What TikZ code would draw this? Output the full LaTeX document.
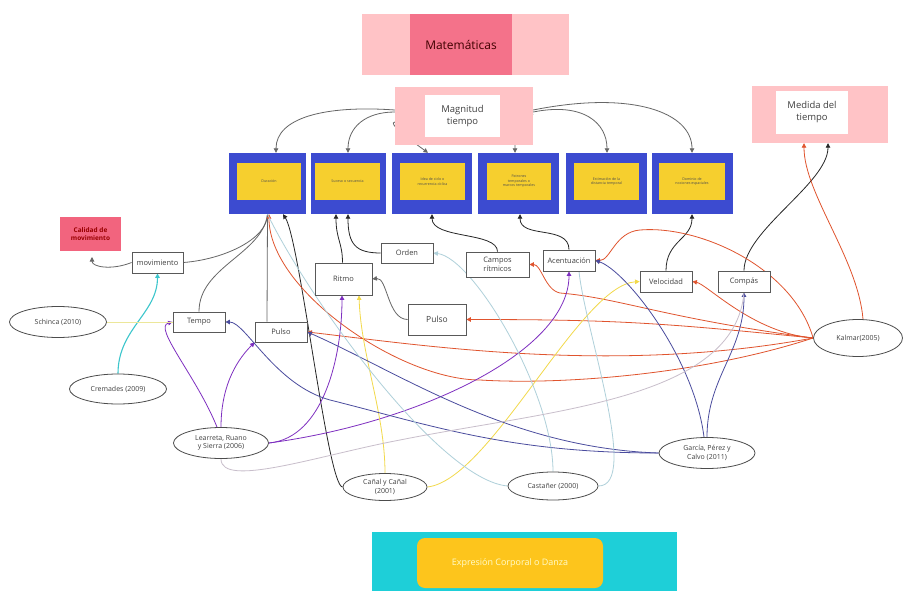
\documentclass[tikz,border=0pt]{standalone}
\usepackage{fontspec}
\setmainfont{Open Sans}
\usetikzlibrary{arrows.meta,shapes.geometric}
\definecolor{pinkL}{HTML}{FFC3C6}
\definecolor{pinkD}{HTML}{F4728A}
\definecolor{royal}{HTML}{3C4BD0}
\definecolor{yel}{HTML}{F6CF2E}
\definecolor{redc}{HTML}{E0542E}
\definecolor{purp}{HTML}{7E2FC0}
\definecolor{slate}{HTML}{4A4C9E}
\definecolor{cyanc}{HTML}{3CC6CC}
\definecolor{lblue}{HTML}{AFD0DA}
\definecolor{lgray}{HTML}{C8BECB}
\definecolor{yelL}{HTML}{ECE79A}
\definecolor{yelc}{HTML}{F2D94A}
\definecolor{gcol}{HTML}{666666}
\definecolor{turq}{HTML}{1ECFD8}
\definecolor{gold}{HTML}{FDC51C}
\definecolor{calred}{HTML}{F2647E}
\pgfdeclarelayer{bg}
\pgfsetlayers{bg,main}
\tikzset{
 tip/.style={-{Triangle[length=4.5bp,width=4.5bp]}},
 con/.style={line width=0.8bp},
 box/.style={draw=black!65, line width=0.8bp, fill=white, inner sep=0, font=\fontsize{7.5}{9}\selectfont, text=black!75, align=center},
 ell/.style={ellipse, draw=black!70, line width=0.8bp, fill=white, inner sep=0, font=\fontsize{7}{8.5}\selectfont, text=black!75, align=center},
 bluebox/.style={fill=royal, inner sep=0, minimum height=61bp},
 yelbox/.style={fill=yel, inner sep=0, minimum height=37bp, font=\fontsize{3.6}{4.4}\selectfont, align=center, text=black!70},
}
\begin{document}
\begin{tikzpicture}[x=1bp,y=-1bp]
\useasboundingbox (0,0) rectangle (904,591);
% top headers
\node[fill=pinkL, minimum width=207bp, minimum height=61bp, inner sep=0] (matOuter) at (465.5,44.5) {};
\node[fill=pinkD, minimum width=102bp, minimum height=61bp, inner sep=0, font=\fontsize{12}{14}\selectfont, text=black!75!red] (matInner) at (461,44.5) {Matemáticas};
\node[fill=pinkL, minimum width=138bp, minimum height=58bp, inner sep=0] (magOuter) at (464,116) {};
\node[fill=white, minimum width=75bp, minimum height=42bp, inner sep=0, align=center, font=\fontsize{9.5}{12}\selectfont, text=black!75] (magInner) at (462.5,116) {Magnitud\\tiempo};
\node[fill=pinkL, minimum width=136bp, minimum height=57bp, inner sep=0] (medOuter) at (820,114.5) {};
\node[fill=white, minimum width=72bp, minimum height=43bp, inner sep=0, align=center, font=\fontsize{9.5}{12}\selectfont, text=black!75] (medInner) at (812,112.5) {Medida del\\tiempo};
% blue boxes
\node[bluebox, minimum width=77bp] (dur) at (267.5,183.5) {};
\node[yelbox, minimum width=64bp] at (269,181.5) {Duración};
\node[bluebox, minimum width=75bp] (suc) at (348.5,183.5) {};
\node[yelbox, minimum width=65bp] at (347.5,181.5) {Suceso o secuencia};
\node[bluebox, minimum width=80bp] (idea) at (432,183.5) {};
\node[yelbox, minimum width=65bp] at (432.5,181.5) {Idea de ciclo o\\recurrencia cíclica};
\node[bluebox, minimum width=81bp] (pat) at (518.5,183.5) {};
\node[yelbox, minimum width=64bp] at (519,181.5) {Patrones\\temporales o\\marcos temporales};
\node[bluebox, minimum width=81bp] (est) at (606.5,183.5) {};
\node[yelbox, minimum width=65bp] at (606.5,181.5) {Estimación de la\\distancia temporal};
\node[bluebox, minimum width=81bp] (dom) at (692.5,183.5) {};
\node[yelbox, minimum width=66bp] at (692,181.5) {Dominio de\\nociones espaciales};
% left
\node[fill=calred, minimum width=61bp, minimum height=34bp, inner sep=0, align=center, font=\fontsize{6.5}{8}\selectfont\bfseries, text=black!40!red] (cal) at (90.5,234) {Calidad de\\movimiento};
\coordinate (calArrow) at (92,257);
\node[box, minimum width=51bp, minimum height=21bp] (mov) at (157.5,262.5) {movimiento};
\node[box, minimum width=52bp, minimum height=20bp] (tempo) at (199,322) {Tempo};
\node[box, minimum width=52bp, minimum height=20bp] (pulsoS) at (281,332) {Pulso};
\node[box, minimum width=57bp, minimum height=32bp] (ritmo) at (343.5,279) {Ritmo};
\node[box, minimum width=52bp, minimum height=20bp] (orden) at (407,253) {Orden};
\node[box, minimum width=63bp, minimum height=25bp] (campos) at (497.5,264.5) {Campos\\rítmicos};
\node[box, minimum width=52bp, minimum height=21bp] (acent) at (569,260.5) {Acentuación};
\node[box, minimum width=58bp, minimum height=31bp, font=\fontsize{8.5}{10}\selectfont] (pulsoB) at (437,319.5) {Pulso};
\node[box, minimum width=52bp, minimum height=21bp] (veloc) at (666,281.5) {Velocidad};
\node[box, minimum width=52bp, minimum height=21bp] (compas) at (744,281.5) {Compás};
% ellipses
\node[ell, minimum width=97bp, minimum height=31bp] (schinca) at (58,322) {Schinca (2010)};
\node[ell, minimum width=97bp, minimum height=30bp] (crem) at (118,389) {Cremades (2009)};
\node[ell, minimum width=95bp, minimum height=31bp] (lear) at (221,443) {Learreta, Ruano\\y Sierra (2006)};
\node[ell, minimum width=84bp, minimum height=27bp] (canal) at (385,487) {Cañal y Cañal\\(2001)};
\node[ell, minimum width=90bp, minimum height=28bp] (cast) at (553,486) {Castañer (2000)};
\node[ell, minimum width=96bp, minimum height=31bp] (garcia) at (707,453) {García, Pérez y\\Calvo (2011)};
\node[ell, minimum width=89bp, minimum height=37bp] (kalmar) at (858,338) {Kalmar(2005)};
% bottom
\node[fill=turq, minimum width=305bp, minimum height=59bp, inner sep=0] (expOuter) at (524.5,561.5) {};
\node[fill=gold, rounded corners=8bp, minimum width=186bp, minimum height=50bp, inner sep=0, font=\fontsize{9}{11}\selectfont, text=yellow!20] (exp) at (510,563) {Expresión Corporal o Danza};

\begin{pgfonlayer}{bg}
\fill[white] (0,0) rectangle (904,591);
% gray from Magnitud
\draw[con,gcol,tip] ([yshift=6bp]magOuter.west) .. controls +(-70,-5) and +(0,-35) .. ([xshift=8.5bp]dur.north);
\draw[con,gcol,tip] ([yshift=4bp]magOuter.west) .. controls +(-30,0) and +(0,-25) .. ([xshift=-0.5bp]suc.north);
\draw[con,gcol,tip] ([yshift=-6bp]magOuter.west) .. controls +(-7,1) and +(-22,-16) .. ([xshift=-4bp]idea.north);
\draw[con,gcol,tip] ([yshift=2bp]magOuter.east) .. controls +(-15,5) and +(0,-20) .. ([xshift=-3.5bp]pat.north);
\draw[con,gcol,tip] ([yshift=4bp]magOuter.east) .. controls +(50,-10) and +(0,-30) .. ([xshift=0.5bp]est.north);
\draw[con,gcol,tip] ([yshift=6bp]magOuter.east) .. controls +(100,-20) and +(0,-40) .. ([xshift=-0.5bp]dom.north);
% gray near Duracion
\draw[con,gcol] (mov.east) .. controls +(40,-3) and +(0,25) .. (dur.south);
\draw[con,gcol] (tempo.north) .. controls +(0,-45) and +(-5,40) .. (dur.south);
\draw[con,gcol] ([xshift=-14bp]pulsoS.north) -- (dur.south);
\draw[con,gcol,tip] (mov.west) .. controls +(-20,8) and +(0,10) .. (calArrow);
\draw[con,gcol,tip] (pulsoB.west) .. controls +(-20,0) and +(15,-2) .. (ritmo.east);
% black
\draw[con,black!85,tip] (orden.west) .. controls +(-25,0) and +(0,30) .. ([xshift=-0.5bp]suc.south);
\draw[con,black!85,tip] ([xshift=-1bp]ritmo.north) .. controls +(0,-20) and +(0,25) .. ([xshift=-12.5bp]suc.south);
\draw[con,black!85,tip] (campos.north) .. controls +(0,-20) and +(0,25) .. (idea.south);
\draw[con,black!85,tip] (acent.north) .. controls +(0,-25) and +(0,25) .. ([xshift=1.5bp]pat.south);
\draw[con,black!85,tip] (veloc.north) .. controls +(0,-30) and +(0,25) .. ([xshift=-0.5bp]dom.south);
\draw[con,black!85,tip] (compas.north) .. controls +(0,-40) and +(0,40) .. ([xshift=8bp]medOuter.south);
\draw[con,black!85,tip] (canal.west) .. controls +(-15,0) and +(17,26) .. ([xshift=15.5bp]dur.south);
% red from Kalmar
\draw[con,redc,tip] ([xshift=5bp]kalmar.north) .. controls +(-5,-60) and +(0,50) .. ([xshift=-16bp]medOuter.south);
\draw[con,redc,tip] (kalmar.west) .. controls +(-20,-70) and +(60,-5) .. (640,230) .. controls +(-25,2) and +(15,0) .. (acent.east);
\draw[con,redc,tip] (kalmar.west) .. controls +(-60,-5) and +(15,3) .. (veloc.east);
\draw[con,redc,tip] (kalmar.west) .. controls +(-150,-20) and +(60,5) .. (560,293) .. controls +(-15,-3) and +(12,0) .. (campos.east);
\draw[con,redc,tip] (kalmar.west) .. controls +(-150,-15) and +(150,0) .. (pulsoB.east);
\draw[con,redc,tip] (kalmar.west) .. controls +(-200,37) and +(113,13) .. (pulsoS.east);
\draw[con,redc,tip] (kalmar.west) .. controls +(-113,37) and +(80,5) .. (480,380) .. controls +(-80,0) and +(0,76) .. ([xshift=1.5bp]dur.south);
% purple from Learreta
\draw[con,purp,tip] ([xshift=-4bp]lear.north) .. controls +(-20,-50) and +(-20,5) .. (tempo.west);
\draw[con,purp,tip] (lear.north) .. controls +(0,-45) and +(-15,15) .. (pulsoS.south west);
\draw[con,purp,tip] (lear.east) .. controls +(55,-5) and +(0,60) .. ([xshift=-1.5bp]ritmo.south);
\draw[con,purp,tip] (lear.east) .. controls +(150,-20) and +(0,80) .. (acent.south);
% cyan
\draw[con,cyanc,line width=1.1bp,tip] (crem.north) .. controls +(0,-45) and +(0,40) .. (mov.south);
% yellow
\draw[con,yelL] (schinca.east) -- (tempo.west);
\draw[con,yelc,tip] (canal.north) .. controls +(0,-60) and +(2,60) .. ([xshift=15.5bp]ritmo.south);
\draw[con,yelc,tip] (canal.east) .. controls +(63,-7) and +(-60,4) .. (veloc.west);
% slate blue from Garcia
\draw[con,slate,tip] (garcia.north) .. controls +(0,-60) and +(0,60) .. (compas.south);
\draw[con,slate,tip] ([xshift=-3bp]garcia.north) .. controls +(-10,-80) and +(30,10) .. (acent.east);
\draw[con,slate,tip] (garcia.west) .. controls +(-150,0) and +(100,25) .. (330,400) .. controls +(-55,-15) and +(20,0) .. (tempo.east);
\draw[con,slate,tip] (garcia.west) .. controls +(-150,-5) and +(93,41) .. (pulsoS.east);
% light blue from Castaner
\draw[con,lblue] (cast.west) .. controls +(-68,-6) and +(42,86) .. (dur.south);
\draw[con,lblue,tip] (cast.north) .. controls +(0,-80) and +(40,5) .. (orden.east);
\draw[con,lblue] (cast.east) .. controls +(42,0) and +(6,59) .. ([xshift=10bp]acent.south);
% light lavender from Learreta
\draw[con,lgray] (lear.south) .. controls +(0,30) and +(-80,15) .. (400,440) .. controls +(150,-30) and +(-9,108) .. (compas.south);
\end{pgfonlayer}
\end{tikzpicture}
\end{document}
